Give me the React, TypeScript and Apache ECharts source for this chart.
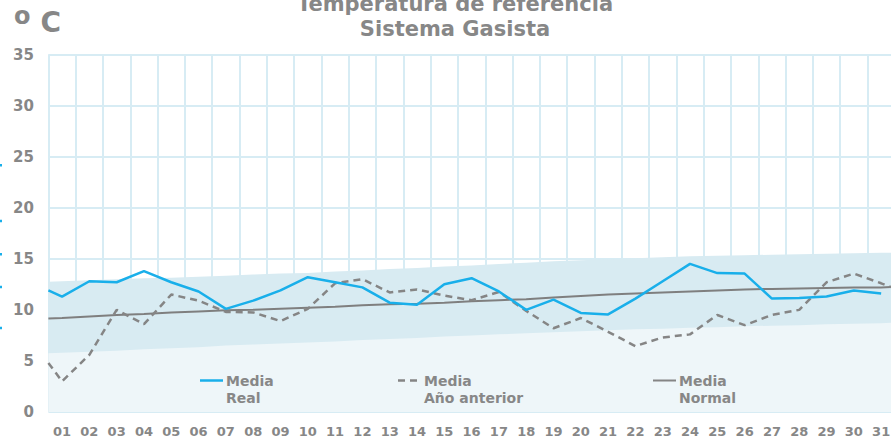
import React, { useEffect, useRef } from "react";
import * as echarts from "echarts";

// ---- data ----
const days = ["01","02","03","04","05","06","07","08","09","10","11","12","13","14","15","16","17","18","19","20","21","22","23","24","25","26","27","28","29","30","31"];

// Media Real (°C) per day; value carried in at the left edge (end of previous day)
const mediaRealStart = 11.9;
const mediaReal = [11.3, 12.8, 12.7, 13.8, 12.7, 11.8, 10.1, 10.9, 11.9, 13.2, 12.7, 12.2, 10.7, 10.5, 12.5, 13.1, 11.8, 10.0, 11.0, 9.7, 9.55, 11.1, 12.8, 14.5, 13.6, 13.55, 11.1, 11.15, 11.3, 11.9, 11.6];

// Media Año anterior
const prevYearStart = 4.8;
const prevYear = [3.0, 5.6, 10.0, 8.6, 11.5, 10.9, 9.8, 9.75, 8.9, 10.1, 12.6, 13.0, 11.7, 12.0, 11.4, 10.95, 11.75, 9.9, 8.2, 9.2, 7.85, 6.45, 7.3, 7.6, 9.5, 8.5, 9.5, 10.0, 12.7, 13.55, 12.6];
const prevYearEnd = 12.1;

// Media Normal
const normalStart = 9.15;
const normal = [9.2, 9.35, 9.5, 9.6, 9.75, 9.85, 9.95, 10.0, 10.1, 10.2, 10.3, 10.45, 10.55, 10.6, 10.7, 10.85, 10.95, 11.05, 11.2, 11.35, 11.5, 11.6, 11.7, 11.8, 11.9, 12.0, 12.05, 12.1, 12.15, 12.2, 12.2];
const normalEnd = 12.25;

// Normal range band (upper / lower limits)
const bandUpperStart = 12.75;
const bandUpper = [12.8, 12.9, 13.0, 13.1, 13.15, 13.25, 13.35, 13.45, 13.55, 13.6, 13.75, 13.85, 14.0, 14.1, 14.25, 14.35, 14.5, 14.6, 14.75, 14.85, 14.95, 15.05, 15.15, 15.25, 15.3, 15.35, 15.4, 15.45, 15.5, 15.55, 15.6];
const bandUpperEnd = 15.6;
const bandLowerStart = 5.75;
const bandLower = [5.8, 5.9, 6.0, 6.15, 6.25, 6.35, 6.5, 6.6, 6.7, 6.8, 6.9, 7.05, 7.15, 7.25, 7.4, 7.5, 7.6, 7.7, 7.8, 7.9, 8.0, 8.1, 8.15, 8.25, 8.3, 8.4, 8.45, 8.5, 8.6, 8.65, 8.7];
const bandLowerEnd = 8.75;

const yTicks = { min: 0, max: 35, interval: 5 };
const titleLines = ["Temperatura de referencia", "Sistema Gasista"];
const legendItems = [
  { name: "Media\nReal" },
  { name: "Media\nAño anterior" },
  { name: "Media\nNormal" },
];

// ---- helpers ----
const LEFT_EDGE = 0.5;
const RIGHT_EDGE = days.length + 0.5;
function build(values: number[], start?: number, end?: number) {
  const out: number[][] = [];
  if (start !== undefined) out.push([LEFT_EDGE, start]);
  values.forEach((v, i) => out.push([i + 1, v]));
  if (end !== undefined) out.push([RIGHT_EDGE, end]);
  return out;
}

const GRAY = "#878787";
const BLUE = "#19afea";
const FONT = "DejaVu Sans";

export default function App() {
  const ref = useRef<HTMLDivElement>(null);
  useEffect(() => {
    if (!ref.current) return;
    const chart = echarts.init(ref.current, null, { renderer: "svg" });
    const shadow = { shadowColor: "rgba(0,0,0,0.3)", shadowBlur: 3, shadowOffsetY: 1, shadowOffsetX: 1 };
    const legendLineY = 380.5;
    const legendX = [200, 398, 653];
    const legendGraphics: any[] = [];
    legendItems.forEach((it, i) => {
      const x = legendX[i];
      const stroke = i === 0 ? BLUE : "#858585";
      legendGraphics.push({
        type: "line",
        shape: { x1: x, y1: legendLineY, x2: x + 23, y2: legendLineY },
        style: {
          stroke,
          lineWidth: i === 2 ? 2 : 2.5,
          lineDash: i === 1 ? [7, 5] : null,
        },
        z: 100,
      });
      legendGraphics.push({
        type: "text",
        x: x + 26,
        y: legendLineY - 8.5,
        style: {
          text: it.name,
          fill: GRAY,
          font: `bold 14px "${FONT}"`,
          lineHeight: 17,
          verticalAlign: "top",
          align: "left",
        },
        z: 100,
      });
    });
    const marks = [165, 220.7, 254, 286.7, 327.7].map((y) => ({
      type: "rect",
      shape: { x: 0, y: y - 1, width: 2, height: 2.5 },
      style: { fill: BLUE },
    }));

    const option: any = {
      animation: false,
      backgroundColor: "#ffffff",
      textStyle: { fontFamily: FONT },
      grid: { left: 48.4, right: 5.2, top: 54.5, bottom: 26, containLabel: false },
      xAxis: [
        {
          type: "category",
          data: days,
          boundaryGap: true,
          offset: 1.5,
          axisLine: { show: true, onZero: false, lineStyle: { color: "#a9a9a9", width: 3, ...shadow } },
          axisTick: { show: false },
          axisLabel: { color: GRAY, fontWeight: "bold", fontSize: 13, margin: 11, interval: 0, fontFamily: FONT },
          splitLine: { show: true, interval: 0, lineStyle: { color: "#d7ecf4", width: 2 } },
        },
        {
          type: "value",
          position: "top",
          min: LEFT_EDGE,
          max: RIGHT_EDGE,
          offset: 2,
          axisLine: { show: true, onZero: false, lineStyle: { color: "#a0a0a0", width: 2, ...shadow } },
          axisTick: { show: false },
          axisLabel: { show: false },
          splitLine: { show: false },
        },
      ],
      yAxis: {
        type: "value",
        min: yTicks.min,
        max: yTicks.max,
        interval: yTicks.interval,
        offset: 4.5,
        axisLine: { show: true, onZero: false, lineStyle: { color: "#999999", width: 7, ...shadow } },
        axisTick: { show: false },
        axisLabel: { color: GRAY, fontWeight: "bold", fontSize: 15, margin: 10, fontFamily: FONT },
        splitLine: { show: true, lineStyle: { color: "#d7ecf4", width: 2 } },
      },
      series: [
        {
          name: "Banda superior",
          type: "line",
          xAxisIndex: 1,
          data: build(bandUpper, bandUpperStart, bandUpperEnd),
          symbol: "none",
          silent: true,
          lineStyle: { width: 0, opacity: 0 },
          areaStyle: { color: "#d8ebf2", opacity: 1 },
          z: 1,
        },
        {
          name: "Banda inferior",
          type: "line",
          xAxisIndex: 1,
          data: build(bandLower, bandLowerStart, bandLowerEnd),
          symbol: "none",
          silent: true,
          lineStyle: { width: 0, opacity: 0 },
          areaStyle: { color: "#eef6f9", opacity: 1 },
          z: 1,
        },
        {
          name: "Media Normal",
          type: "line",
          xAxisIndex: 1,
          data: build(normal, normalStart, normalEnd),
          symbol: "none",
          lineStyle: { color: "#7f7f7f", width: 2 },
          z: 3,
        },
        {
          name: "Media Año anterior",
          type: "line",
          xAxisIndex: 1,
          data: build(prevYear, prevYearStart, prevYearEnd),
          symbol: "none",
          lineStyle: { color: "#858585", width: 2.5, type: [7, 5] },
          z: 4,
        },
        {
          name: "Media Real",
          type: "line",
          xAxisIndex: 1,
          data: build(mediaReal, mediaRealStart),
          symbol: "none",
          lineStyle: { color: BLUE, width: 2.5 },
          z: 5,
        },
      ],
      graphic: [
        {
          type: "text",
          x: 455,
          y: 16.6,
          style: {
            text: titleLines.join("\n"),
            fill: GRAY,
            font: `bold 21px "${FONT}"`,
            lineHeight: 24.3,
            align: "center",
            verticalAlign: "middle",
          },
        },
        {
          type: "text",
          x: 14,
          y: 15.7,
          style: { text: "o", fill: GRAY, font: `bold 24px "${FONT}"`, verticalAlign: "middle", align: "left" },
        },
        {
          type: "text",
          x: 40.5,
          y: 22,
          style: { text: "C", fill: GRAY, font: `bold 28px "${FONT}"`, verticalAlign: "middle", align: "left" },
        },
        ...legendGraphics,
        ...marks,
      ],
    };
    chart.setOption(option);
    return () => chart.dispose();
  }, []);

  return (
    <div style={{ position: "fixed", left: 0, top: 0, width: 891, height: 438, overflow: "hidden", background: "#fff" }}>
      <div ref={ref} style={{ width: 900, height: 438 }} />
    </div>
  );
}
